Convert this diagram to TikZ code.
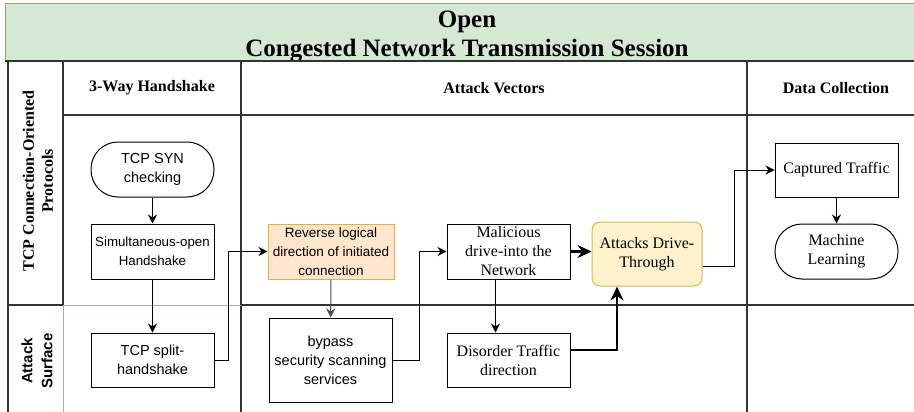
\documentclass[tikz,border=0pt]{standalone}
\usepackage{fontspec}
\setmainfont{Liberation Serif}
\setsansfont{Liberation Sans}
\usetikzlibrary{arrows.meta,calc}
\definecolor{hdrfill}{HTML}{D5E8D4}
\definecolor{hdrline}{HTML}{82B366}
\definecolor{gridline}{HTML}{333333}
\definecolor{purp}{HTML}{B7A0CF}
\definecolor{orfill}{HTML}{FFE6CC}
\definecolor{orline}{HTML}{E8AD45}
\definecolor{yefill}{HTML}{FFF2CC}
\definecolor{yeline}{HTML}{D6B656}
\tikzset{
  grid/.style={draw=gridline, line width=1.3pt},
  boxs/.style={draw=black, line width=1pt, minimum width=123pt, minimum height=55pt, align=center, inner sep=1pt,
    font=\sffamily\fontsize{14.5}{19}\selectfont},
  boxr/.style={draw=black, line width=1pt, minimum width=123pt, minimum height=55pt, align=center, inner sep=1pt,
    font=\fontsize{16}{19}\selectfont},
  term/.style={rounded corners=27pt},
  arr/.style={-{Stealth[length=9pt,width=9pt]}, line width=1pt},
  tarr/.style={-{Stealth[length=14pt,width=13pt]}, line width=2.5pt},
  hdr/.style={font=\bfseries\fontsize{16}{19}\selectfont, align=center},
}
\begin{document}
\begin{tikzpicture}[x=1pt,y=-1pt]
\useasboundingbox (0,0) rectangle (914,412);
% header
\path[fill=hdrfill, draw=hdrline, line width=1pt] (5,4) rectangle (930,61);
\node[font=\bfseries\fontsize{25}{29}\selectfont, align=center] (title) at (467,36.5) {Open\\Congested Network Transmission Session};
% grid
\draw[grid] (5,61) -- (930,61);
\draw[grid] (8,61) -- (8,412);
\draw[grid] (63,61) -- (63,305);
\draw[draw=purp, line width=1pt] (63,305) -- (63,412);
\draw[grid] (241,61) -- (241,412);
\draw[grid] (747,61) -- (747,412);
\draw[grid] (63,115) -- (930,115);
\draw[grid] (8,305) -- (63,305);
\draw[draw=purp, line width=1pt] (63,305) -- (241,305);
\draw[grid] (241,305) -- (930,305);
% column / row headers
\node[hdr] (h1) at (152,88) {3-Way Handshake};
\node[hdr] (h2) at (494,88) {Attack Vectors};
\node[hdr] (h3) at (836,88) {Data Collection};
\node[hdr, rotate=90] (r1) at (38,181) {TCP Connection-Oriented\\Protocols};
\node[rotate=90, align=center, font=\sffamily\bfseries\fontsize{15}{20}\selectfont] (r2) at (37,361) {Attack\\Surface};
% nodes
\node[boxs, term] (syn) at (152.5,169.5) {TCP SYN\\checking};
\node[boxs, font=\sffamily\fontsize{13.3}{19}\selectfont] (sim) at (152.5,251.5) {Simultaneous-open\\Handshake};
\node[boxs, minimum height=54pt] (split) at (152.5,360) {TCP split-\\handshake};
\node[boxs, fill=orfill, draw=orline, minimum width=126pt, font=\sffamily\fontsize{13.5}{19}\selectfont] (rev) at (331,251.5) {Reverse logical\\direction of initiated\\connection};
\node[boxs, minimum height=84pt] (byp) at (330.5,360) {bypass\\security scanning\\services};
\node[boxr] (mal) at (508.5,251.5) {Malicious\\drive-into the\\Network};
\node[boxr, minimum height=54pt] (dis) at (508.5,360) {Disorder Traffic\\direction};
\node[boxr, fill=yefill, draw=yeline, rounded corners=8pt, minimum width=110pt, minimum height=64pt] (att) at (647,254) {Attacks Drive-\\Through};
\node[boxr, minimum height=54pt] (cap) at (836.5,170) {Captured Traffic};
\node[boxr, term] (ml) at (836.5,251.5) {Machine\\Learning};
% connectors
\draw[arr] (syn) -- (sim);
\draw[arr] (sim) -- (split);
\draw[arr] (split.east) -- ++(14,0) |- (rev.west);
\draw[arr, draw=black!70] (rev) -- (byp);
\draw[arr] (byp.east) -- ++(27,0) |- (mal.west);
\draw[arr] ([xshift=-13pt]mal.south) -- ([xshift=-13pt]dis.north);
\draw[tarr] (mal.east) -- (att.west |- mal.east);
\draw[tarr] ([yshift=10pt]dis.east) -| ([xshift=-30pt]att.south);
\draw[arr] ([yshift=-12pt]att.east) -- ++(32,0) |- (cap.west);
\draw[arr] (cap) -- (ml);
\end{tikzpicture}
\end{document}
